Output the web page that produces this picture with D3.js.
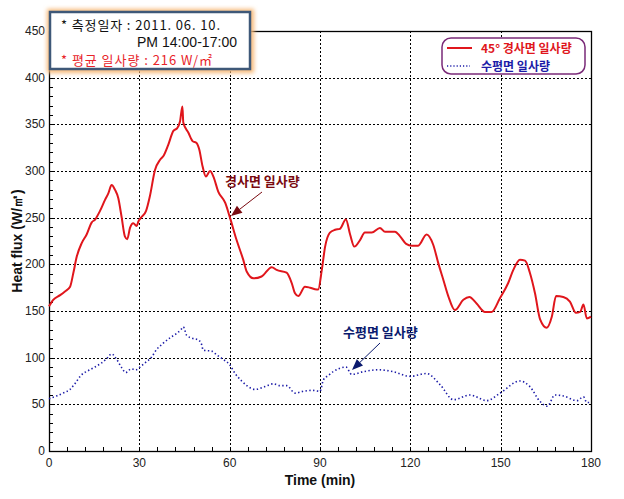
<!DOCTYPE html>
<html>
<head>
<meta charset="utf-8">
<script src="https://cdn.jsdelivr.net/npm/d3@7"></script>
<style>
  body { margin: 0; background: #fff; }
  svg { display: block; }
  .tick-label { font-family: "Liberation Sans", Arial, sans-serif; font-size: 12px; fill: #222; }
  .axis-title { font-family: "Liberation Sans Narrow", "Liberation Sans", Arial, sans-serif; font-weight: bold; font-size: 14px; fill: #111; }
  .kr { font-family: "Noto Sans CJK KR", sans-serif; font-weight: bold; }
</style>
</head>
<body>
<svg id="chart" width="624" height="499"></svg>
<script>
// 45° inclined surface (time in min, W/m2)
const inclinedT = [0, 1.4, 3.7, 5.3, 7, 8.1, 9.2, 10.9, 12.5, 14.2, 15.3, 16.9, 18.6, 19.7, 20.8, 21.9, 23, 24.1, 25.2, 26, 26.9, 28, 29.1, 29.7, 30.8, 32.2, 33.5, 35.2, 36.9, 38, 39.6, 41.3, 42.6, 43.5, 44.3, 44.6, 46.3, 47.7, 49, 49.9, 51, 52.1, 53.5, 54.6, 56.2, 58.5, 60.1, 62.3, 64.5, 65.7, 67.9, 70.6, 74, 75.6, 78.9, 80.6, 81.7, 82.8, 85, 86.7, 88.9, 89.4, 90.6, 91.7, 93.3, 95, 96.6, 98.6, 100, 101.4, 103.3, 104.9, 107.2, 109.9, 111.6, 114.9, 116.6, 118.6, 120.5, 122.6, 125.4, 127.6, 129.3, 131, 132.6, 134.8, 137.6, 139.6, 142, 144.8, 147, 149.8, 152.5, 154.2, 156.4, 158.1, 159.7, 161.4, 163.1, 165.3, 167, 168.4, 170.8, 173, 175, 176.4, 177.5, 178.6, 180];
const inclinedV = [155, 162, 167, 171, 176, 191, 208, 223, 232, 245, 248, 257, 269, 276, 285, 280, 271, 251, 230, 227, 239, 244, 241, 246, 251, 257, 273, 301, 312, 316, 328, 343, 346, 353, 369, 352, 341, 332, 330, 323, 305, 294, 300, 294, 278, 266, 250, 226, 205, 192, 185, 187, 197, 194, 191, 180, 169, 166, 176, 175, 173, 173, 194, 219, 234, 237, 238, 248, 232, 219, 226, 234, 234, 239, 235, 235, 230, 222, 220, 220, 232, 221, 201, 183, 166, 151, 162, 165, 158, 149, 149, 164, 180, 194, 205, 204, 191, 169, 141, 132, 144, 166, 165, 160, 148, 149, 157, 142, 144];

// horizontal surface
const horizT = [0, 2.5, 4.7, 7, 8.6, 10.6, 13, 15.3, 17.3, 19.2, 20.8, 22.5, 24.2, 25.5, 27.3, 28.8, 30.6, 32.1, 33.9, 35.8, 37.4, 40.5, 42.4, 43.8, 44.6, 45.7, 47.4, 49.6, 50.7, 51.2, 54, 55.7, 57.9, 59.9, 61.8, 64, 65.7, 68.4, 71.7, 74.5, 76.7, 79, 81.7, 84.5, 87.3, 90, 91.1, 92.8, 94.4, 98.6, 100.5, 104.4, 109.4, 114.3, 119.9, 125.4, 129.9, 134.3, 139.8, 145.4, 149.8, 156.4, 159.7, 163.1, 165.5, 168, 170.8, 175.3, 177.5, 178.6, 180];
const horizV = [56, 59, 62, 66, 72, 81, 86, 90, 94, 99, 104, 98, 89, 84, 88, 87, 91, 95, 100, 109, 114, 122, 126, 130, 133, 124, 121, 119, 114, 108, 107, 103, 98, 93, 83, 75, 70, 66, 69, 72, 70, 70, 62, 64, 65, 64, 76, 81, 85, 90, 82, 85, 87, 85, 80, 83, 71, 55, 60, 54, 62, 75, 69, 53, 48, 60, 59, 54, 58, 52, 52];

const xTicks = [0, 30, 60, 90, 120, 150, 180];
const yTicks = [0, 50, 100, 150, 200, 250, 300, 350, 400, 450];

const svg = d3.select("#chart");
const plotL = 49, plotR = 591, plotT = 31, plotB = 451;

const x = d3.scaleLinear().domain([0, 180]).range([plotL, plotR]);
const y = d3.scaleLinear().domain([0, 450]).range([plotB, plotT]);

// grid (dotted)
const grid = svg.append("g").attr("stroke", "#000").attr("stroke-width", 1).attr("stroke-dasharray", "2,2");
grid.selectAll(".gx").data(xTicks.slice(1, -1)).join("line")
  .attr("x1", d => Math.round(x(d)) + 0.5).attr("x2", d => Math.round(x(d)) + 0.5)
  .attr("y1", plotT).attr("y2", plotB);
grid.selectAll(".gy").data(yTicks.slice(1, -1)).join("line")
  .attr("y1", d => Math.round(y(d)) + 0.5).attr("y2", d => Math.round(y(d)) + 0.5)
  .attr("x1", plotL).attr("x2", plotR);

// frame
svg.append("rect").attr("x", plotL + 0.5).attr("y", plotT + 0.5)
  .attr("width", plotR - plotL).attr("height", plotB - plotT)
  .attr("fill", "none").attr("stroke", "#000").attr("stroke-width", 1.3);

// minor / major ticks pointing inward
const ticks = svg.append("g").attr("stroke", "#000").attr("stroke-width", 1);
ticks.selectAll(".tx").data(d3.range(0, 181, 6)).join("line")
  .attr("x1", d => Math.round(x(d)) + 0.5).attr("x2", d => Math.round(x(d)) + 0.5)
  .attr("y1", plotB).attr("y2", plotB - 4);
ticks.selectAll(".ty").data(d3.range(0, 451, 10)).join("line")
  .attr("y1", d => Math.round(y(d)) + 0.5).attr("y2", d => Math.round(y(d)) + 0.5)
  .attr("x1", plotL).attr("x2", d => plotL + (d % 50 === 0 ? 6 : 4));

// tick labels
svg.selectAll(".xl").data(xTicks).join("text").attr("class", "tick-label")
  .attr("x", d => x(d)).attr("y", plotB + 16).attr("text-anchor", "middle").text(d => d);
svg.selectAll(".yl").data(yTicks).join("text").attr("class", "tick-label")
  .attr("x", plotL - 4).attr("y", d => y(d) + 4).attr("text-anchor", "end").text(d => d);

// axis titles
svg.append("text").attr("class", "axis-title").attr("x", (plotL + plotR) / 2).attr("y", 485)
  .attr("text-anchor", "middle").text("Time (min)");
svg.append("text").attr("class", "axis-title")
  .attr("transform", `translate(22,${(plotT + plotB) / 2}) rotate(-90)`)
  .attr("text-anchor", "middle").text("Heat flux (W/㎡)");

// series
const line = d3.line().x(d => x(d[0])).y(d => y(d[1])).curve(d3.curveMonotoneX);
svg.append("path").datum(d3.zip(horizT, horizV)).attr("d", line)
  .attr("fill", "none").attr("stroke", "#1c1ca8").attr("stroke-width", 1.6)
  .attr("stroke-dasharray", "1.4,2.4");
svg.append("path").datum(d3.zip(inclinedT, inclinedV)).attr("d", line)
  .attr("fill", "none").attr("stroke", "#e0161c").attr("stroke-width", 2);

// arrow annotations
function arrow(x1, y1, x2, y2, color) {
  const a = Math.atan2(y2 - y1, x2 - x1), L = 11, W = 4.5;
  const bx = x2 - L * Math.cos(a), by = y2 - L * Math.sin(a);
  svg.append("line").attr("x1", x1).attr("y1", y1).attr("x2", bx).attr("y2", by)
    .attr("stroke", color).attr("stroke-width", 1);
  svg.append("path").attr("fill", color)
    .attr("d", `M${x2},${y2}L${bx + W * Math.sin(a)},${by - W * Math.cos(a)}L${bx - W * Math.sin(a)},${by + W * Math.cos(a)}Z`);
}
svg.append("text").attr("class", "kr").attr("x", 225).attr("y", 186)
  .attr("font-size", 13).attr("fill", "#7a0a10").text("경사면 일사량");
arrow(262, 192, 231, 216, "#7a0a10");
svg.append("text").attr("class", "kr").attr("x", 343).attr("y", 337)
  .attr("font-size", 13).attr("fill", "#0a1a6e").text("수평면 일사량");
arrow(380, 343, 352, 370, "#0a1a6e");

// info box
const defs = svg.append("defs");
defs.append("filter").attr("id", "glow").attr("x", "-10%").attr("y", "-20%").attr("width", "120%").attr("height", "140%")
  .append("feGaussianBlur").attr("stdDeviation", 2);
svg.append("rect").attr("x", 50).attr("y", 12).attr("width", 201).attr("height", 58)
  .attr("fill", "none").attr("stroke", "#f7b978").attr("stroke-width", 6).attr("filter", "url(#glow)");
svg.append("rect").attr("x", 50).attr("y", 12).attr("width", 200).attr("height", 57)
  .attr("fill", "#fff").attr("stroke", "#3e5878").attr("stroke-width", 2.5);
const info = svg.append("g").attr("font-size", 13).attr("font-family", "'Noto Sans CJK KR', sans-serif");
info.append("text").attr("x", 61).attr("y", 30).attr("fill", "#111")
  .attr("textLength", 159).attr("lengthAdjust", "spacing").text("* 측정일자 : 2011. 06. 10.");
info.append("text").attr("x", 137).attr("y", 47).attr("fill", "#111")
  .attr("font-family", "'Liberation Sans', Arial, sans-serif").attr("font-size", 14)
  .attr("textLength", 100).attr("lengthAdjust", "spacing").text("PM 14:00-17:00");
info.append("text").attr("x", 61).attr("y", 65).attr("fill", "#e8242a")
  .attr("textLength", 151).attr("lengthAdjust", "spacing").text("* 평균 일사량 : 216 W/㎡");

// legend
svg.append("rect").attr("x", 442).attr("y", 38).attr("width", 143).attr("height", 36).attr("rx", 9)
  .attr("fill", "#fff").attr("stroke", "#7a2a78").attr("stroke-width", 1.5);
svg.append("line").attr("x1", 447).attr("x2", 472).attr("y1", 48).attr("y2", 48)
  .attr("stroke", "#e0161c").attr("stroke-width", 2);
svg.append("line").attr("x1", 447).attr("x2", 470).attr("y1", 66).attr("y2", 66)
  .attr("stroke", "#1c1ca8").attr("stroke-width", 1.4).attr("stroke-dasharray", "1.2,2");
svg.append("text").attr("class", "kr").attr("x", 481).attr("y", 53).attr("font-size", 12)
  .attr("fill", "#e0161c").text("45° 경사면 일사량");
svg.append("text").attr("class", "kr").attr("x", 481).attr("y", 71).attr("font-size", 12)
  .attr("fill", "#1c1ca8").text("수평면 일사량");
</script>
</body>
</html>
